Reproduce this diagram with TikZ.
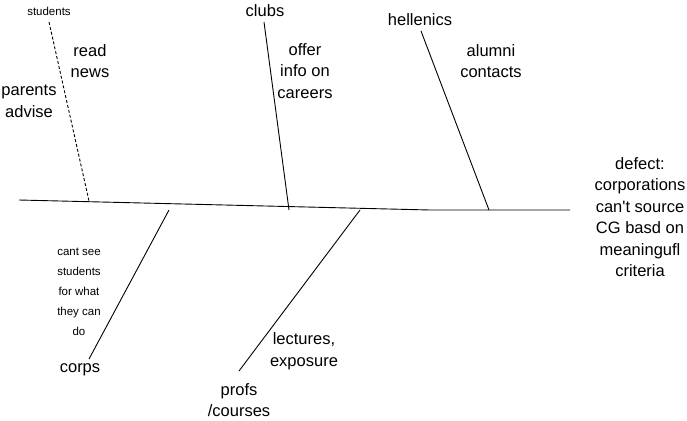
\documentclass[tikz,border=0pt]{standalone}
\usepackage{fontspec}
\setmainfont{Liberation Sans}
\begin{document}
\begin{tikzpicture}[x=1pt,y=-1pt,
  lbl/.style={inner sep=0pt,align=center,font=\fontsize{16.5}{21.5}\selectfont},
  small/.style={inner sep=0pt,align=center,font=\fontsize{11.5}{20}\selectfont},
  bone/.style={line width=0.9pt,black}]
\useasboundingbox (0,0) rectangle (687,420);
% spine
\coordinate (s0) at (19,200);
\coordinate (s1) at (430,210);
\coordinate (s2) at (570,210);
\draw[bone] (s0) -- (s1) -- (s2);
% bone ends
\coordinate (stT) at (49,22);  \coordinate (stB) at (89,201);
\coordinate (clT) at (264,22); \coordinate (clB) at (289,210);
\coordinate (heT) at (421,31); \coordinate (heB) at (489,210);
\coordinate (coT) at (169,210); \coordinate (coB) at (89,359);
\coordinate (prT) at (360,210); \coordinate (prB) at (239,371);
\draw[bone,dash pattern=on 3pt off 2pt] (stT) -- (stB);
\draw[bone] (clT) -- (clB);
\draw[bone] (heT) -- (heB);
\draw[bone] (coT) -- (coB);
\draw[bone] (prT) -- (prB);
% labels
\node[small] (students) at (49,11) {students};
\node[lbl] (read) at (90,61) {read\\news};
\node[lbl] (parents) at (29,101) {parents\\advise};
\node[lbl] (clubs) at (265,11) {clubs};
\node[lbl] (offer) at (305,71) {offer\\info on\\careers};
\node[lbl] (hell) at (420,20) {hellenics};
\node[lbl] (alumni) at (491,61) {alumni\\contacts};
\node[lbl] (defect) at (640,217) {defect:\\corporations\\can\textquotesingle t source\\CG basd on\\meaningufl\\criteria};
\node[small] (cant) at (79,292) {cant see\\students\\for what\\they can\\do};
\node[lbl] (corps) at (80,370) {corps};
\node[lbl] (lect) at (304,351) {lectures,\\exposure};
\node[lbl] (profs) at (239,400) {profs\\/courses};
\end{tikzpicture}
\end{document}
